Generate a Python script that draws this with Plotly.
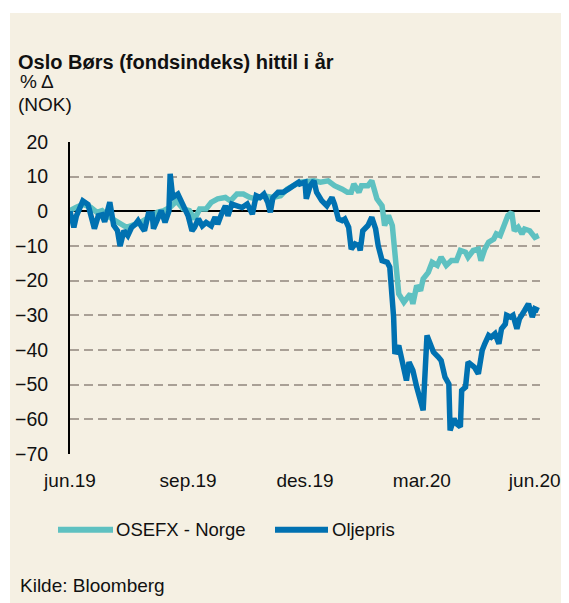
import plotly.graph_objects as go

# ---------------- data ----------------
osefx_dates = [
    "2019-06-01", "2019-06-04", "2019-06-06", "2019-06-11", "2019-06-17", "2019-06-22",
    "2019-06-26", "2019-06-30", "2019-07-04", "2019-07-07", "2019-07-11", "2019-07-15",
    "2019-07-26", "2019-08-08", "2019-08-13", "2019-08-18", "2019-08-23", "2019-08-28",
    "2019-09-02", "2019-09-06", "2019-09-10", "2019-09-15", "2019-09-19", "2019-09-24",
    "2019-09-30", "2019-10-04", "2019-10-09", "2019-10-14", "2019-10-19", "2019-10-24",
    "2019-10-30", "2019-11-06", "2019-11-12", "2019-11-17", "2019-11-22", "2019-11-27",
    "2019-12-08", "2019-12-13", "2019-12-19", "2019-12-24", "2019-12-30", "2020-01-03",
    "2020-01-06", "2020-01-08", "2020-01-12", "2020-01-14", "2020-01-19", "2020-01-22",
    "2020-01-26", "2020-01-30", "2020-02-01", "2020-02-04", "2020-02-07", "2020-02-08",
    "2020-02-10", "2020-02-12", "2020-02-16", "2020-02-18", "2020-02-21", "2020-02-23",
    "2020-02-26", "2020-02-29", "2020-03-02", "2020-03-06", "2020-03-09", "2020-03-13",
    "2020-03-16", "2020-03-20", "2020-03-24", "2020-03-28", "2020-03-31", "2020-04-04",
    "2020-04-06", "2020-04-10", "2020-04-14", "2020-04-16", "2020-04-19", "2020-04-22",
    "2020-04-26", "2020-04-28", "2020-05-01", "2020-05-04", "2020-05-07", "2020-05-10",
    "2020-05-12", "2020-05-15", "2020-05-18", "2020-05-20", "2020-05-24", "2020-05-28",
    "2020-05-31",
]
osefx_values = [
    0.2, 1.0, 1.2, 2.0, 1.2, -0.3,
    0.2, -1.3, -2.2, -3.2, -4.1, -4.6,
    -3.2, -0.3, 0.2, 1.2, 3.0, 0.7,
    0.2, -2.2, 0.7, 0.7, 2.6, 3.6,
    4.0, 3.0, 5.0, 5.0, 4.0, 3.6,
    4.5, 4.0, 4.5, 6.4, 7.4, 8.4,
    8.8, 8.4, 8.8, 7.4, 6.4, 5.5,
    5.5, 7.9, 5.5, 7.4, 7.4, 8.8,
    3.6, 1.6, -4.1, -1.2, -4.1, -8.5,
    -15.2, -23.8, -26.2, -25.2, -23.8, -26.7,
    -21.4, -22.9, -19.5, -17.6, -14.7, -15.6,
    -13.2, -15.6, -14.2, -14.2, -11.3, -11.8,
    -13.2, -11.3, -10.9, -14.2, -10.9, -8.9,
    -8.0, -6.5, -7.0, -4.1, -1.2, -0.3,
    -5.6, -4.6, -6.5, -5.1, -5.6, -7.5,
    -7.0,
]

oil_dates = [
    "2019-06-01", "2019-06-04", "2019-06-06", "2019-06-11", "2019-06-15", "2019-06-20",
    "2019-06-23", "2019-06-26", "2019-06-28", "2019-07-02", "2019-07-05", "2019-07-08",
    "2019-07-10", "2019-07-13", "2019-07-16", "2019-07-19", "2019-07-22", "2019-07-24",
    "2019-07-27", "2019-07-29", "2019-08-01", "2019-08-04", "2019-08-05", "2019-08-09",
    "2019-08-11", "2019-08-14", "2019-08-17", "2019-08-18", "2019-08-20", "2019-08-24",
    "2019-08-27", "2019-08-30", "2019-09-01", "2019-09-04", "2019-09-06", "2019-09-09",
    "2019-09-12", "2019-09-15", "2019-09-19", "2019-09-22", "2019-09-24", "2019-09-27",
    "2019-09-30", "2019-10-02", "2019-10-05", "2019-10-09", "2019-10-13", "2019-10-17",
    "2019-10-19", "2019-10-21", "2019-10-24", "2019-10-27", "2019-10-30", "2019-11-02",
    "2019-11-04", "2019-11-06", "2019-11-10", "2019-11-14", "2019-11-18", "2019-11-22",
    "2019-11-26", "2019-11-27", "2019-12-01", "2019-12-02", "2019-12-05", "2019-12-08",
    "2019-12-10", "2019-12-14", "2019-12-18", "2019-12-22", "2019-12-24", "2019-12-27",
    "2019-12-30", "2020-01-01", "2020-01-04", "2020-01-06", "2020-01-09", "2020-01-12",
    "2020-01-13", "2020-01-15", "2020-01-19", "2020-01-22", "2020-01-25", "2020-01-27",
    "2020-01-30", "2020-02-03", "2020-02-05", "2020-02-08", "2020-02-09", "2020-02-12",
    "2020-02-14", "2020-02-17", "2020-02-18", "2020-02-20", "2020-02-23", "2020-02-26",
    "2020-02-29", "2020-03-02", "2020-03-05", "2020-03-07", "2020-03-10", "2020-03-14",
    "2020-03-16", "2020-03-19", "2020-03-22", "2020-03-23", "2020-03-26", "2020-03-28",
    "2020-03-31", "2020-04-01", "2020-04-04", "2020-04-06", "2020-04-09", "2020-04-11",
    "2020-04-14", "2020-04-17", "2020-04-19", "2020-04-22", "2020-04-24", "2020-04-27",
    "2020-04-30", "2020-05-02", "2020-05-05", "2020-05-06", "2020-05-09", "2020-05-11",
    "2020-05-14", "2020-05-16", "2020-05-20", "2020-05-23", "2020-05-26", "2020-05-28",
    "2020-05-31",
]
oil_values = [
    0.0, -4.6, -1.3, 3.0, 2.0, -5.0,
    -1.3, -1.0, -3.0, 2.6, -4.0, -5.6,
    -10.0, -5.6, -7.0, -4.6, -3.7, -2.7,
    -4.6, -5.6, -0.8, -0.8, -5.0, -1.3,
    0.2, -3.2, 0.0, 10.8, 4.0, 5.0,
    2.6, 0.7, -1.3, -5.6, -4.6, -2.2,
    -4.2, -3.2, -4.2, -1.7, -3.7, -0.8,
    1.6, -1.3, 2.1, 1.6, 1.1, 2.1,
    0.7, -0.8, 4.5, 4.0, 5.0, 2.6,
    -0.3, 4.0, 5.5, 5.5, 6.4, 7.4,
    8.4, 7.9, 8.4, 3.6, 7.4, 8.8,
    5.5, 3.1, 1.6, 4.0, 2.0, -2.2,
    -2.7, -2.2, -4.6, -10.9, -9.4, -9.9,
    -11.3, -5.6, -4.1, -1.7, -5.1, -9.9,
    -14.2, -14.7, -16.1, -30.5, -41.1, -38.7,
    -42.1, -45.9, -48.8, -43.5, -45.9, -50.7,
    -55.5, -57.4, -35.8, -38.2, -40.6, -42.1,
    -43.0, -47.8, -49.8, -63.2, -59.8, -61.3,
    -62.2, -51.7, -50.7, -43.5, -44.5, -45.0,
    -46.9, -40.1, -38.2, -35.8, -36.3, -35.3,
    -38.2, -33.9, -32.5, -30.0, -30.5, -30.0,
    -33.9, -31.0, -28.6, -26.7, -30.5, -28.1,
    -28.6,
]

x_tick_vals = ["2019-06-01", "2019-09-01", "2019-12-01", "2020-03-01", "2020-06-01"]
x_tick_text = ["jun.19", "sep.19", "des.19", "mar.20", "jun.20\u00a0\u00a0"]
y_tick_vals = [20, 10, 0, -10, -20, -30, -40, -50, -60, -70]

series_names = ["OSEFX - Norge", "Oljepris"]
series_colors = ["#5EC1C1", "#0071B1"]

title_text = "Oslo Børs (fondsindeks) hittil i år"
unit_lines = ["% Δ", "(NOK)"]
source_text = "Kilde: Bloomberg"

# ---------------- layout geometry ----------------
W, H = 561, 595          # page body has 8px margin
OFF = 8
PL, PR, PT, PB = 70, 540, 142, 454.3   # plot area in page pixels

def px(x):
    return (x - PL) / (PR - PL)

def py(y):
    return (PB - y) / (PB - PT)

FONT = "Liberation Sans, Arial, sans-serif"
TXT = "#111111"
BG = "#F5F0E3"

fig = go.Figure()
fig.add_trace(go.Scatter(x=osefx_dates, y=osefx_values, mode="lines",
                         name=series_names[0],
                         line=dict(color=series_colors[0], width=5.5)))
fig.add_trace(go.Scatter(x=oil_dates, y=oil_values, mode="lines",
                         name=series_names[1],
                         line=dict(color=series_colors[1], width=5.5)))

shapes = [
    dict(type="rect", xref="paper", yref="paper", layer="below",
         x0=px(10), x1=px(569 + 5), y0=py(13), y1=py(603 + 5),
         fillcolor=BG, line=dict(width=0)),
    dict(type="line", xref="paper", yref="paper", x0=px(58), x1=px(113),
         y0=py(530), y1=py(530), line=dict(color=series_colors[0], width=6)),
    dict(type="line", xref="paper", yref="paper", x0=px(275), x1=px(328),
         y0=py(530), y1=py(530), line=dict(color=series_colors[1], width=6)),
]

annotations = [
    dict(text="<b>" + title_text + "</b>", x=px(16), y=py(62), xref="paper", yref="paper",
         xanchor="left", yanchor="middle", showarrow=False,
         font=dict(size=20, color=TXT, family=FONT)),
    dict(text=unit_lines[0], x=px(18), y=py(81), xref="paper", yref="paper",
         xanchor="left", yanchor="middle", showarrow=False,
         font=dict(size=19, color=TXT, family=FONT)),
    dict(text=unit_lines[1], x=px(16), y=py(104), xref="paper", yref="paper",
         xanchor="left", yanchor="middle", showarrow=False,
         font=dict(size=19, color=TXT, family=FONT)),
    dict(text=series_names[0], x=px(114), y=py(530), xref="paper", yref="paper",
         xanchor="left", yanchor="middle", showarrow=False,
         font=dict(size=18.5, color=TXT, family=FONT)),
    dict(text=series_names[1], x=px(330), y=py(530), xref="paper", yref="paper",
         xanchor="left", yanchor="middle", showarrow=False,
         font=dict(size=18.5, color=TXT, family=FONT)),
    dict(text=source_text, x=px(18), y=py(586), xref="paper", yref="paper",
         xanchor="left", yanchor="middle", showarrow=False,
         font=dict(size=19, color=TXT, family=FONT)),
]

fig.update_layout(
    width=W, height=H,
    autosize=False,
    margin=dict(l=PL - OFF, r=OFF + W - PR, t=PT - OFF, b=OFF + H - PB, pad=0,
                autoexpand=False),
    paper_bgcolor="white",
    plot_bgcolor="rgba(0,0,0,0)",
    showlegend=False,
    shapes=shapes,
    annotations=annotations,
    font=dict(family=FONT, size=19, color=TXT),
)

fig.update_xaxes(
    type="date", range=["2019-06-01", "2020-06-01"],
    tickmode="array", tickvals=x_tick_vals, ticktext=x_tick_text,
    showgrid=False, zeroline=False, showline=False, ticks="",
    automargin=False,
    ticklabeloverflow="allow",
    ticklabelstandoff=13,
    tickfont=dict(size=19, color=TXT, family=FONT),
)
fig.update_yaxes(
    range=[-70, 20], tickmode="array", tickvals=y_tick_vals,
    showgrid=True, gridcolor="#A9A096", gridwidth=2, griddash="9px,5px",
    zeroline=True, zerolinecolor="#000000", zerolinewidth=2,
    showline=True, linecolor="#000000", linewidth=2,
    ticks="", ticklabelstandoff=16,
    automargin=False,
    tickfont=dict(size=19.5, color=TXT, family=FONT),
)

fig.write_html("out.html")
